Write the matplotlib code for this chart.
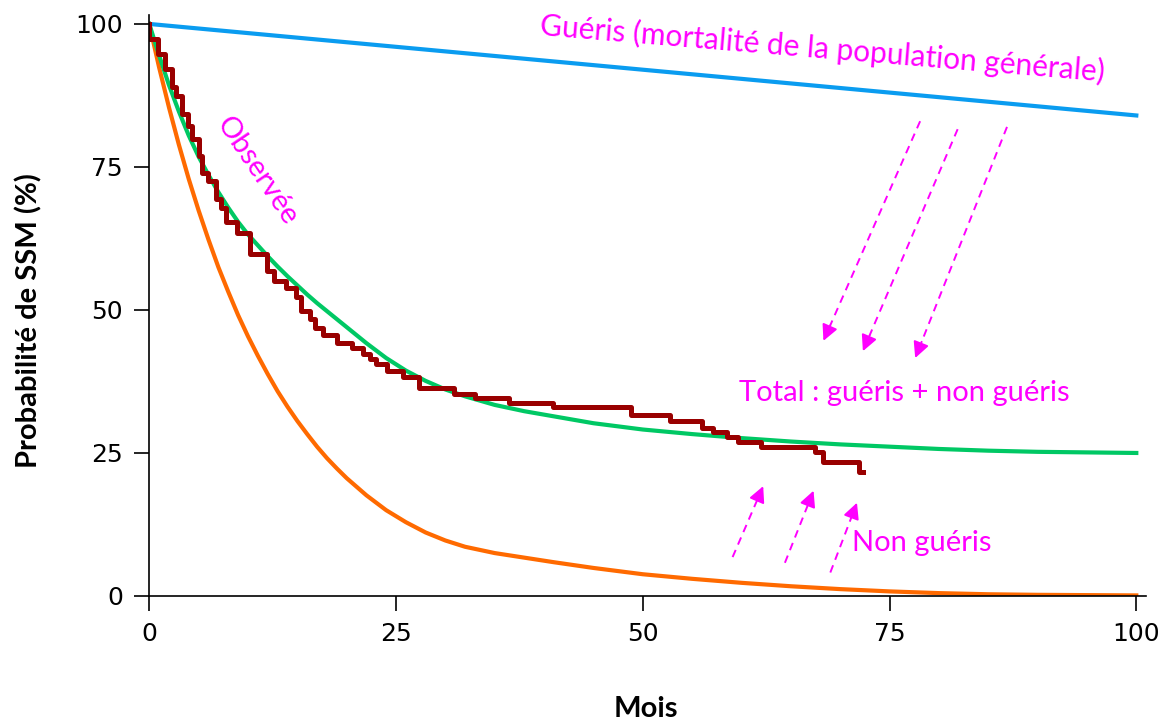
import matplotlib
matplotlib.use('Agg')
import matplotlib.pyplot as plt

# courbes (mois, %)
gueris_x = [0, 25, 50, 75, 100]
gueris_y = [100, 96, 92, 88, 84]

non_gueris_x = [0, 1, 2, 3, 4, 5, 6, 7, 8, 9, 10, 11, 12, 13, 14, 15, 16, 17, 18, 19,
                20, 22, 24, 26, 28, 30, 32, 35, 38, 41, 45, 50, 55, 60, 65, 70, 75,
                80, 85, 90, 100]
non_gueris_y = [100, 92.4, 85.4, 78.9, 72.9, 67.4, 62.3, 57.5, 53.2, 49.1, 45.4, 42.0,
                38.8, 35.8, 33.1, 30.6, 28.3, 26.1, 24.1, 22.3, 20.6, 17.6, 15.0, 12.9,
                11.1, 9.7, 8.6, 7.5, 6.7, 5.9, 4.9, 3.8, 3.0, 2.3, 1.7, 1.2, 0.8, 0.5,
                0.3, 0.2, 0.1]

total_x = [0, 1, 2, 3, 4, 5, 6, 7, 8, 9, 10, 11, 12, 13, 14, 15, 16, 17, 18, 19, 20,
           22, 24, 26, 28, 30, 32, 35, 38, 41, 45, 50, 55, 60, 65, 70, 75, 80, 85, 90,
           95, 100]
total_y = [100, 94.5, 89.3, 84.7, 80.5, 76.8, 73.6, 70.6, 67.9, 65.4, 63.2, 61.3, 59.4,
           57.6, 55.9, 54.3, 52.7, 51.2, 49.8, 48.4, 47.0, 44.2, 41.6, 39.4, 37.6,
           36.1, 34.9, 33.4, 32.3, 31.4, 30.2, 29.1, 28.3, 27.6, 27.0, 26.5, 26.1,
           25.7, 25.4, 25.2, 25.1, 25.0]

# Kaplan-Meier observé (temps de l'événement, survie après le saut)
km_t = [0, 0, 0.9, 1.6, 2.3, 2.7, 3.3, 3.9, 4.3, 5.0, 5.3, 6.0, 6.8, 7.3, 7.8, 8.9,
        10.2, 11.9, 12.6, 13.9, 14.9, 15.4, 16.3, 16.8, 17.6, 19.0, 20.5, 21.7,
        22.4, 23.0, 24.1, 25.7, 27.3, 30.9, 33.0, 36.4, 40.9, 48.8, 52.8, 56.0,
        57.1, 58.5, 59.6, 62.0, 67.4, 68.3, 71.9, 72.3]
km_s = [100, 97.3, 94.7, 92.1, 89.0, 87.4, 84.2, 82.2, 79.8, 76.9, 74.0, 72.6, 69.4,
        67.9, 65.3, 63.5, 59.8, 56.8, 55.1, 53.9, 52.2, 49.8, 48.4, 46.9, 45.7,
        44.3, 43.4, 42.3, 41.4, 40.5, 39.3, 38.2, 36.4, 35.3, 34.6, 33.7, 33.0,
        31.7, 30.6, 29.4, 28.6, 27.8, 26.9, 26.0, 25.1, 23.4, 21.7, 21.7]

# flèches pointillées (départ, arrivée)
fleches_bas = [((78.1, 83.0), (68.3, 44.6)),
               ((81.9, 81.6), (72.3, 42.8)),
               ((86.9, 82.0), (77.6, 41.6))]
fleches_haut = [((59.1, 6.8), (62.2, 19.2)),
                ((64.4, 5.8), (67.3, 18.4)),
                ((69.0, 4.1), (71.7, 16.3))]

magenta = '#ff00ff'
font_txt = ['Lato', 'DejaVu Sans']

fig = plt.figure(figsize=(11.66, 7.21), dpi=100)
ax = fig.add_axes([0.128, 0.1734, 0.855, 0.8053])

ax.plot(gueris_x, gueris_y, color='#0a9cf0', lw=3)
ax.plot(non_gueris_x, non_gueris_y, color='#ff6a00', lw=3)
ax.plot(total_x, total_y, color='#00c864', lw=3)
ax.step(km_t, km_s, where='post', color='#990000', lw=3.6)

for (x0, y0), (x1, y1) in fleches_bas + fleches_haut:
    # ligne pointillée puis tête pleine
    fx = x0 + (x1 - x0) * 0.93
    fy = y0 + (y1 - y0) * 0.93
    ax.plot([x0, fx], [y0, fy], color=magenta, lw=1.4, ls=(0, (4, 3)))
    ax.annotate('', xy=(x1, y1), xytext=(fx, fy),
                arrowprops=dict(arrowstyle='-|>', color=magenta, lw=1.4,
                                mutation_scale=24, shrinkA=0, shrinkB=0))

ax.text(68.2, 95.6, 'Guéris (mortalité de la population générale)', color=magenta,
        fontsize=21.5, family=font_txt, rotation=-4.7, ha='center', va='center',
        rotation_mode='anchor')
ax.text(10.9, 74.3, 'Observée', color=magenta, fontsize=21, family=font_txt,
        rotation=-56, ha='center', va='center', rotation_mode='anchor')
ax.text(76.5, 35.5, 'Total : guéris + non guéris', color=magenta, fontsize=21,
        family=font_txt, ha='center', va='center')
ax.text(78.3, 9.3, 'Non guéris', color=magenta, fontsize=21, family=font_txt,
        ha='center', va='center')

ax.set_xlim(0, 101)
ax.set_ylim(0, 101.5)
ax.set_xticks([0, 25, 50, 75, 100])
ax.set_yticks([0, 25, 50, 75, 100])
ax.tick_params(direction='out', length=11, width=1.2, labelsize=18, pad=8)
for side in ['top', 'right']:
    ax.spines[side].set_visible(False)
for side in ['left', 'bottom']:
    ax.spines[side].set_linewidth(1.2)

ax.set_xlabel('Mois', fontsize=21, fontweight='bold', family=font_txt)
ax.set_ylabel('Probabilité de SSM (%)', fontsize=21, fontweight='bold', family=font_txt)
ax.xaxis.set_label_coords(0.498, -0.172)
ax.yaxis.set_label_coords(-0.107, 0.475)

fig.savefig('out.png', dpi=100)
